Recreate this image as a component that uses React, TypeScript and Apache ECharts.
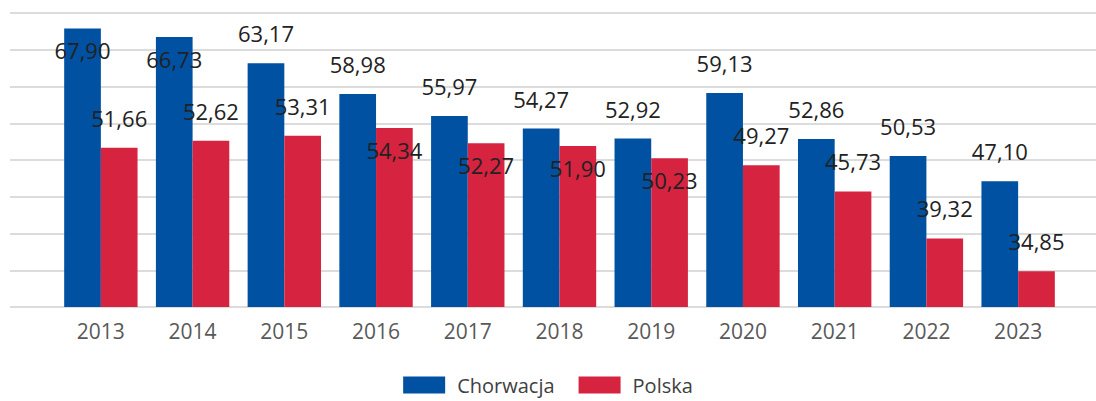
import React, { useEffect, useRef } from "react";
import * as echarts from "echarts";

const years = ["2013", "2014", "2015", "2016", "2017", "2018", "2019", "2020", "2021", "2022", "2023"];
const chorwacja = [67.9, 66.73, 63.17, 58.98, 55.97, 54.27, 52.92, 59.13, 52.86, 50.53, 47.1];
const polska = [51.66, 52.62, 53.31, 54.34, 52.27, 51.9, 50.23, 49.27, 45.73, 39.32, 34.85];
// label placement per bar (style only)
const chorwacjaLabelPos = ["insideTop", "insideTop", "top", "top", "top", "top", "top", "top", "top", "top", "top"];
const polskaLabelPos = ["top", "top", "top", "insideTop", "insideTop", "insideTop", "insideTop", "top", "top", "top", "top"];

const BLUE = "#0051A2";
const RED = "#D52340";
const FONT = "'Open Sans', 'Noto Sans', sans-serif";

const fmt = (v: number) => v.toFixed(2).replace(".", ",");

function buildData(values: number[], pos: string[]) {
  return values.map((v, i) => ({
    value: v,
    label: {
      position: pos[i],
      distance: pos[i] === "top" ? 19 : 11,
    },
  }));
}

export default function App() {
  const ref = useRef<HTMLDivElement>(null);
  useEffect(() => {
    if (!ref.current) return;
    const chart = echarts.init(ref.current, undefined, { renderer: "svg" });
    const labelStyle = {
      show: true,
      color: "#222222",
      fontSize: 22,
      fontFamily: FONT,
      formatter: (p: any) => fmt(p.value),
    };
    chart.setOption({
      animation: false,
      backgroundColor: "#ffffff",
      grid: [
        { left: 55, right: 32, top: 13, bottom: 94 },
        { left: 10, right: 0, top: 13, bottom: 94 },
      ],
      legend: {
        data: ["Chorwacja", "Polska"],
        top: 375,
        left: "center",
        icon: "rect",
        itemWidth: 42,
        itemHeight: 17,
        itemGap: 24,
        padding: 0,
        textStyle: { fontSize: 20, color: "#404040", fontFamily: FONT, padding: [0, 0, 0, 7] },
      },
      xAxis: [
        {
          type: "category",
          data: years,
          gridIndex: 0,
          axisLine: { show: false },
          axisTick: { show: false },
          axisLabel: { color: "#595959", fontSize: 21, fontFamily: FONT, margin: 13 },
        },
        { type: "value", gridIndex: 1, min: 0, max: 1, show: false },
      ],
      yAxis: [
        { type: "value", gridIndex: 0, min: 30, max: 70, interval: 5, show: false, splitLine: { show: false } },
        {
          type: "value",
          gridIndex: 1,
          min: 30,
          max: 70,
          interval: 5,
          axisLine: { show: false },
          axisTick: { show: false },
          axisLabel: { show: false },
          splitLine: { show: true, lineStyle: { color: "#dcdcdc", width: 2 } },
        },
      ],
      series: [
        {
          name: "Chorwacja",
          type: "bar",
          xAxisIndex: 0,
          yAxisIndex: 0,
          barGap: "0%",
          barCategoryGap: "20%",
          itemStyle: { color: BLUE },
          label: labelStyle,
          data: buildData(chorwacja, chorwacjaLabelPos),
        },
        {
          name: "Polska",
          type: "bar",
          xAxisIndex: 0,
          yAxisIndex: 0,
          barGap: "0%",
          barCategoryGap: "20%",
          itemStyle: { color: RED },
          label: labelStyle,
          data: buildData(polska, polskaLabelPos),
        },
      ],
    });
    return () => chart.dispose();
  }, []);
  return (
    <div
      ref={ref}
      style={{ position: "fixed", left: 0, top: 0, width: 1096, height: 401, background: "#fff" }}
    />
  );
}
